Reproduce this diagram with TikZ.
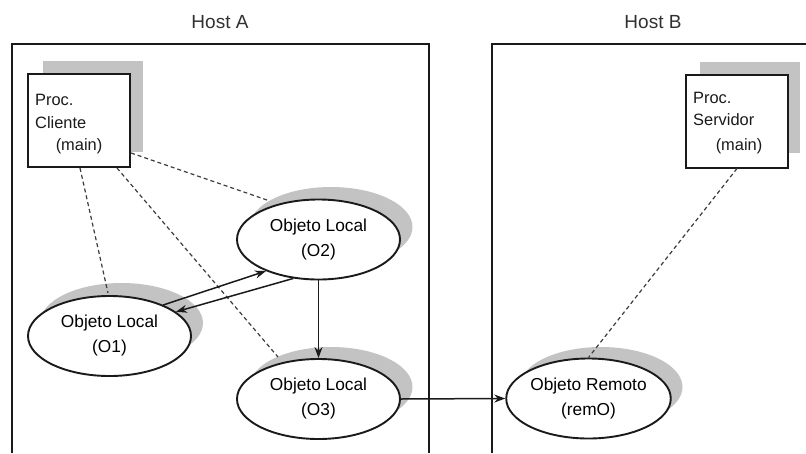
\documentclass[tikz,border=0pt]{standalone}
\usepackage{fontspec}
\setmainfont{Liberation Sans}
\usetikzlibrary{shapes.geometric,arrows.meta}

\definecolor{shade}{HTML}{C3C3C3}
\definecolor{ink}{HTML}{1A1A1A}

\tikzset{
  hostframe/.style={draw=ink, line width=1.9pt},
  procbox/.style={draw=ink, line width=2pt, fill=white, minimum width=102pt, minimum height=93pt, inner sep=0pt},
  procshadow/.style={fill=shade, minimum width=100pt, minimum height=91pt, inner sep=0pt},
  objnode/.style={ellipse, draw=ink, line width=1.9pt, fill=white, minimum width=163pt, minimum height=80pt, inner sep=0pt, align=center, font=\fontsize{17.3}{25}\selectfont},
  objshadow/.style={ellipse, fill=shade, minimum width=163pt, minimum height=80pt, inner sep=0pt},
  link/.style={draw=ink!85, line width=1.2pt, dash pattern=on 4pt off 3pt},
  call/.style={draw=ink, line width=1.5pt, -{Stealth[length=11pt, width=8pt]}},
  hostlabel/.style={font=\fontsize{19}{22}\selectfont, text=ink!90},
  proctext/.style={font=\fontsize{16.4}{22}\selectfont, anchor=west, inner sep=0pt, text=ink},
}

\begin{document}
\begin{tikzpicture}[x=1pt, y=-1pt]
\useasboundingbox (0,0) rectangle (806,453);

% host frames, open at the bottom
\draw[hostframe] (12,453) -- (12,44) -- (429,44) -- (429,453);
\draw[hostframe] (492,453) -- (492,44) -- (806,44);
\node[hostlabel] (hostA) at (220,22) {Host A};
\node[hostlabel] (hostB) at (653,22) {Host B};

% drop shadows
\node[procshadow] (clishadow) at (93,106.5) {};
\node[procshadow] (srvshadow) at (749.5,107) {};
\node[objshadow] (o1shadow) at (121.5,323) {};
\node[objshadow] (o2shadow) at (331,227) {};
\node[objshadow] (o3shadow) at (331,387) {};
\node[objshadow] (remshadow) at (601,387) {};

% process boxes
\node[procbox] (cli) at (79,120.5) {};
\node[proctext] (cliA) at (35,100) {Proc.};
\node[proctext] (cliB) at (35,123) {Cliente};
\node[proctext, anchor=center] (cliC) at (79,146) {(main)};

\node[procbox] (srv) at (737,121) {};
\node[proctext] (srvA) at (693,98) {Proc.};
\node[proctext] (srvB) at (693,120) {Servidor};
\node[proctext, anchor=center] (srvC) at (739,146) {(main)};

% dashed ownership links (under the objects)
\coordinate (o1top) at (108,293);
\coordinate (o3tl) at (278,357);
\coordinate (o2tl) at (267,200);
\draw[link] ([xshift=1pt]cli.south) -- (o1top);
\draw[link] ([xshift=38pt]cli.south) -- (o3tl);
\draw[link] ([yshift=15pt]cli.south east) -- (o2tl);

% objects
\node[objnode] (o1) at (109.5,336) {Objeto Local\\(O1)};
\node[objnode] (o2) at (318.5,239.5) {Objeto Local\\(O2)};
\node[objnode] (o3) at (318.5,399) {Objeto Local\\(O3)};
\node[objnode] (rem) at (588.5,398.5) {Objeto Remoto\\(remO)};

\draw[link] (srv.south) -- (rem.north);

% invocations
\draw[call] (o1.30) -- (o2.211);
\draw[call] (o2.237) -- (o1.20);
\draw[call] (o2.south) -- (o3.north);
\draw[call] (o3.east) -- (rem.west);
\end{tikzpicture}
\end{document}
